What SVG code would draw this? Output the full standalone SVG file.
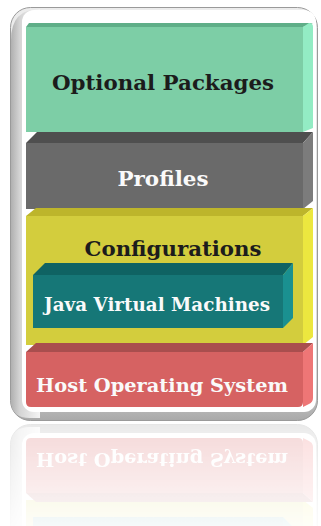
<svg xmlns="http://www.w3.org/2000/svg" xmlns:xlink="http://www.w3.org/1999/xlink" width="321" height="526" viewBox="0 0 321 526">
  <style>
    .lbl { font-family: "DejaVu Serif", "Liberation Serif", serif; font-weight: bold; text-anchor: middle; }
    .dark { fill: #1c1c1c; }
    .light { fill: #fafafa; }
  </style>
  <defs>
    <linearGradient id="frameV" x1="0" y1="0" x2="0" y2="1">
      <stop offset="0" stop-color="#ececec"/>
      <stop offset="0.9" stop-color="#d8d8d8"/>
      <stop offset="1" stop-color="#a9a9a9"/>
    </linearGradient>
    <linearGradient id="frameL" x1="0" y1="0" x2="1" y2="0">
      <stop offset="0" stop-color="#b0b0b0"/>
      <stop offset="0.3" stop-color="#d4d4d4"/>
      <stop offset="1" stop-color="#f4f4f4"/>
    </linearGradient>
    <linearGradient id="fadeGrad" x1="0" y1="0" x2="0" y2="1">
      <stop offset="0" stop-color="#fff" stop-opacity="0.26"/>
      <stop offset="1" stop-color="#fff" stop-opacity="0.04"/>
    </linearGradient>
    <mask id="fade" maskUnits="userSpaceOnUse" x="0" y="420" width="321" height="106">
      <rect x="0" y="420" width="321" height="106" fill="url(#fadeGrad)"/>
    </mask>
  </defs>

  <g id="stack">
    <g id="frame">
      <rect x="10.5" y="7.5" width="307" height="413" rx="20" fill="url(#frameV)" stroke="#9a9a9a"/>
      <path d="M11,40 Q11,9 40,9 L40,418 L30,418 Q11,418 11,400 Z" fill="url(#frameL)"/>
      <rect x="22" y="10" width="294" height="402" rx="12" fill="#ffffff"/>
    </g>

    <g id="optional-packages">
      <polygon points="26,27 29,23 313,23 303,27" fill="#5fae88"/>
      <rect x="26" y="27" width="277" height="105" fill="#7dcea6"/>
      <path d="M303,27 L309,23 Q313,23 313,27 L313,128 L303,132 Z" fill="#93ecc4"/>
      <text class="lbl dark" x="163" y="90" font-size="20" textLength="222" lengthAdjust="spacingAndGlyphs">Optional Packages</text>
    </g>

    <g id="profiles">
      <polygon points="26,143 37,132 313,132 303,143" fill="#4f4f4f"/>
      <rect x="26" y="143" width="277" height="66" fill="#6a6a6a"/>
      <polygon points="303,143 313,132 313,201 303,209" fill="#7c7c7c"/>
      <text class="lbl light" x="163" y="186" font-size="21" textLength="91" lengthAdjust="spacingAndGlyphs">Profiles</text>
    </g>

    <g id="configurations">
      <polygon points="26,216 36,208 313,208 303,216" fill="#bdb52b"/>
      <rect x="26" y="216" width="277" height="129" fill="#d3cd3d"/>
      <polygon points="303,216 313,208 313,337 303,345" fill="#ece73f"/>
      <text class="lbl dark" x="173" y="256" font-size="21" textLength="177" lengthAdjust="spacingAndGlyphs">Configurations</text>
    </g>

    <g id="jvm">
      <polygon points="33,275 45,263 293,263 283,275" fill="#0f6363"/>
      <rect x="33" y="275" width="250" height="53" fill="#167777"/>
      <polygon points="283,275 293,263 293,318 283,328" fill="#1a9090"/>
      <text class="lbl light" x="157" y="311" font-size="18" textLength="226" lengthAdjust="spacingAndGlyphs">Java Virtual Machines</text>
    </g>

    <g id="host-os">
      <polygon points="26,352 36,343 313,343 303,352" fill="#a94e4e"/>
      <path d="M26,352 L303,352 L303,402 Q303,407 298,407 L31,407 Q26,407 26,402 Z" fill="#d66262"/>
      <path d="M303,352 L313,343 L313,398 Q313,402 309,404 L303,407 Z" fill="#ee7676"/>
      <text class="lbl light" x="162" y="392" font-size="19" textLength="252" lengthAdjust="spacingAndGlyphs">Host Operating System</text>
    </g>
  </g>

  <g id="connectors"/>

  <g id="reflection" mask="url(#fade)">
    <use xlink:href="#stack" href="#stack" transform="matrix(1 0 0 -1 0 845)"/>
  </g>
</svg>
